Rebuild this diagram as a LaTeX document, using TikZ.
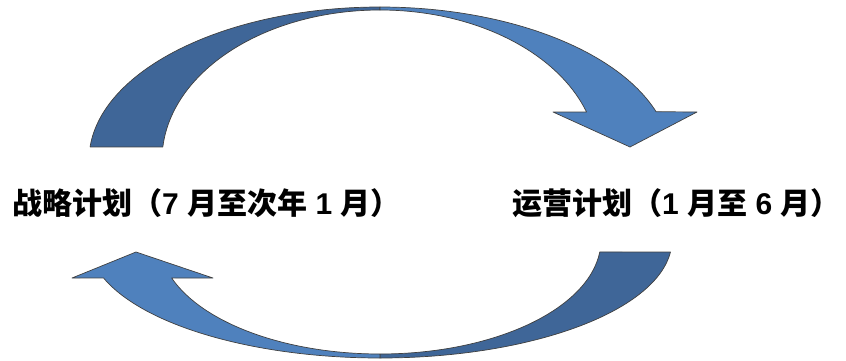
\documentclass[tikz,border=0pt]{standalone}
\usepackage{fontspec}
\usepackage{xcolor}
\usepackage{tikz}
\newfontfamily\cjk{Noto Sans CJK SC}
\newfontfamily\latin{Liberation Sans Bold}
\definecolor{arcdark}{RGB}{63,102,152}
\definecolor{arclight}{RGB}{79,129,189}

\begin{document}
\begin{tikzpicture}[x=1pt,y=1pt,
    darkpart/.style={fill=arcdark,draw=black!75,line width=0.7pt,line join=round},
    lightpart/.style={fill=arclight,draw=black!75,line width=0.7pt,line join=round},
    plan/.style={font=\cjk\bfseries\fontsize{30}{32}\selectfont,inner sep=0pt,anchor=west}]
  \useasboundingbox (0,0) rectangle (846,360);
  % top arrow, left to right
  \draw[darkpart] ([shift={(380,200)}]175.1:291 and 153) arc[start angle=175.1,end angle=90,x radius=291,y radius=153]
    -- ([shift={(380,200)}]90:218 and 150) arc[start angle=90,end angle=175,x radius=218,y radius=150] -- cycle;
  \draw[lightpart] ([shift={(380,200)}]90:291 and 153) arc[start angle=90,end angle=18.4,x radius=291,y radius=153]
    -- (697,248) -- (630,213) -- (553,248)
    -- ([shift={(380,200)}]18.66:218 and 150) arc[start angle=18.66,end angle=90,x radius=218,y radius=150] -- cycle;
  % bottom arrow, right to left
  \draw[darkpart] ([shift={(380,120)}]-5.84:292 and 118) arc[start angle=-5.84,end angle=-90,x radius=292,y radius=118]
    -- ([shift={(380,120)}]-90:221 and 114) arc[start angle=-90,end angle=-6.04,x radius=221,y radius=114] -- cycle;
  \draw[lightpart] ([shift={(380,120)}]-90:292 and 118) arc[start angle=-90,end angle=-161.22,x radius=292,y radius=118]
    -- (72,82) -- (136,108) -- (213,82)
    -- ([shift={(380,120)}]-160.53:221 and 114) arc[start angle=-160.53,end angle=-90,x radius=221,y radius=114] -- cycle;

  \node[plan] (strategy) at (12,157) {战略计划（{\latin 7 }月至次年{\latin\ 1 }月）};
  \node[plan] (operation) at (512,157) {运营计划（{\latin 1 }月至{\latin\ 6 }月）};
\end{tikzpicture}
\end{document}
